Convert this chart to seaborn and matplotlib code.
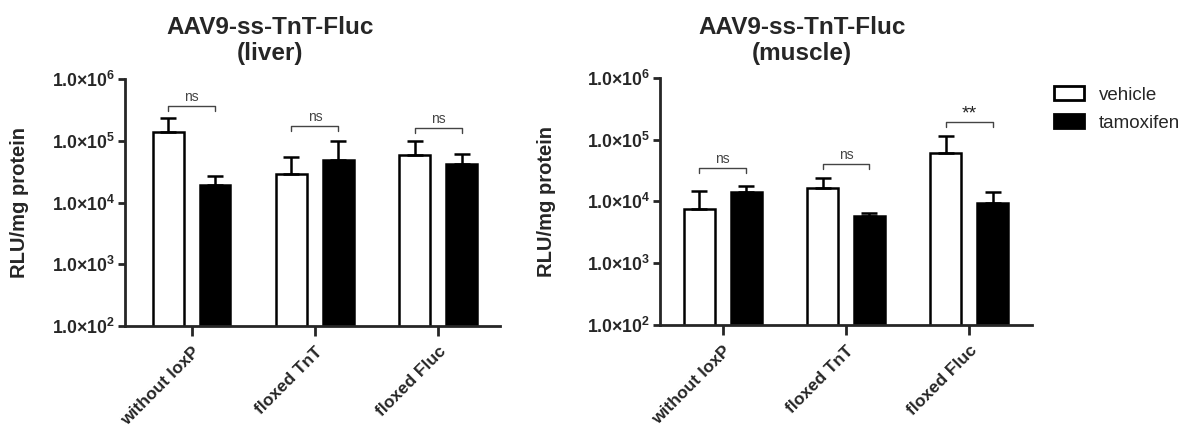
import numpy as np
import pandas as pd
import matplotlib
matplotlib.use('Agg')
import matplotlib.pyplot as plt
import seaborn as sns
from matplotlib.ticker import NullLocator
from matplotlib.patches import Patch

# categorias y grupos
categories = ['without loxP', 'floxed TnT', 'floxed Fluc']
treatments = ['vehicle', 'tamoxifen']

# liver: mean and mean+SEM
liver_vehicle = [1.37e5, 2.9e4, 5.9e4]
liver_vehicle_top = [2.36e5, 5.4e4, 1.0e5]
liver_tamoxifen = [1.9e4, 4.8e4, 4.2e4]
liver_tamoxifen_top = [2.7e4, 1.0e5, 6.0e4]
liver_marks = ['ns', 'ns', 'ns']
liver_bracket = [3.66e5, 1.75e5, 1.63e5]

# muscle
muscle_vehicle = [7.5e3, 1.67e4, 6.05e4]
muscle_vehicle_top = [1.46e4, 2.42e4, 1.16e5]
muscle_tamoxifen = [1.42e4, 5.7e3, 9.4e3]
muscle_tamoxifen_top = [1.8e4, 6.5e3, 1.42e4]
muscle_marks = ['ns', 'ns', '**']
muscle_bracket = [3.47e4, 4.08e4, 1.92e5]

y_ticks = [1e2, 1e3, 1e4, 1e5, 1e6]
y_tick_labels = ['1.0×10$^{2}$', '1.0×10$^{3}$', '1.0×10$^{4}$',
                 '1.0×10$^{5}$', '1.0×10$^{6}$']


def draw_panel(ax, vehicle, vehicle_top, tamoxifen, tamoxifen_top, marks, brackets, xlim):
    """Draws one bar panel with one-sided SEM bars and significance brackets."""
    df = pd.DataFrame({
        'Condition': categories * 2,
        'Treatment': ['vehicle'] * 3 + ['tamoxifen'] * 3,
        'RLU': vehicle + tamoxifen,
    })
    ax.set_yscale('log')
    sns.barplot(data=df, x='Condition', y='RLU', hue='Treatment',
                order=categories, hue_order=treatments,
                palette={'vehicle': 'white', 'tamoxifen': 'black'},
                edgecolor='black', linewidth=1.8, width=0.76, gap=0.34,
                errorbar=None, legend=False, ax=ax)

    centers = []
    for container, vals, tops in zip(ax.containers, [vehicle, tamoxifen],
                                     [vehicle_top, tamoxifen_top]):
        xs = [p.get_x() + p.get_width() / 2 for p in container]
        centers.append(xs)
        vals = np.array(vals)
        up = np.array(tops) - vals
        ax.errorbar(xs, vals, yerr=[np.zeros_like(vals), up], fmt='none',
                    ecolor='black', elinewidth=1.8, capsize=6, capthick=1.8)

    for i, (mark, yb) in enumerate(zip(marks, brackets)):
        x1, x2 = centers[0][i], centers[1][i]
        ax.plot([x1, x1, x2, x2], [yb / 1.2, yb, yb, yb / 1.2],
                color='#444444', lw=1.0, clip_on=False)
        if mark == 'ns':
            ax.text((x1 + x2) / 2, yb * 1.06, mark, ha='center', va='bottom',
                    fontsize=10, color='#444444')
        else:
            ax.text((x1 + x2) / 2, yb * 0.98, mark, ha='center', va='bottom',
                    fontsize=14, color='#222222')

    ax.set_ylim(1e2, 1e6)
    ax.set_xlim(*xlim)
    ax.set_yticks(y_ticks)
    ax.set_yticklabels(y_tick_labels, fontsize=12.7, fontweight='bold')
    ax.yaxis.set_minor_locator(NullLocator())
    ax.set_xticks(range(len(categories)))
    ax.set_xticklabels(categories, rotation=45, ha='right',
                       rotation_mode='anchor', fontsize=12.5, fontweight='bold')
    ax.set_xlabel('')
    ax.set_ylabel('RLU/mg protein', fontsize=14.5, fontweight='bold')
    sns.despine(ax=ax)
    for s in ['left', 'bottom']:
        ax.spines[s].set_linewidth(2)
    ax.tick_params(axis='y', width=2, length=5, pad=2)
    ax.tick_params(axis='x', width=2, length=7, pad=6)


if __name__ == "__main__":
    sns.set_style('ticks')
    plt.rcParams['font.family'] = ['Liberation Sans', 'DejaVu Sans']
    plt.rcParams['mathtext.fontset'] = 'custom'
    plt.rcParams['mathtext.bf'] = 'Liberation Sans:bold'
    plt.rcParams['mathtext.default'] = 'bf'

    fig = plt.figure(figsize=(11.89, 4.28), dpi=100)
    ax1 = fig.add_axes([0.1051, 0.2383, 0.3154, 0.5771])
    ax2 = fig.add_axes([0.5551, 0.2405, 0.3129, 0.5780])

    draw_panel(ax1, liver_vehicle, liver_vehicle_top, liver_tamoxifen,
               liver_tamoxifen_top, liver_marks, liver_bracket, (-0.54, 2.5))
    draw_panel(ax2, muscle_vehicle, muscle_vehicle_top, muscle_tamoxifen,
               muscle_tamoxifen_top, muscle_marks, muscle_bracket, (-0.51, 2.51))
    ax1.yaxis.set_label_coords(-0.255, 0.5)
    ax2.yaxis.set_label_coords(-0.28, 0.5)

    fig.text(0.227, 0.905, 'AAV9-ss-TnT-Fluc\n(liver)', ha='center', va='center',
             fontsize=17.5, fontweight='bold', linespacing=1.2)
    fig.text(0.6745, 0.905, 'AAV9-ss-TnT-Fluc\n(muscle)', ha='center', va='center',
             fontsize=17.5, fontweight='bold', linespacing=1.2)

    handles = [Patch(facecolor='white', edgecolor='black', linewidth=2, label='vehicle'),
               Patch(facecolor='black', edgecolor='black', linewidth=2, label='tamoxifen')]
    fig.legend(handles=handles, loc='upper left', bbox_to_anchor=(1054 / 1189, 1 - 86 / 428),
               frameon=False, fontsize=13.5, handlelength=1.6, handleheight=0.8,
               labelspacing=0.55, handletextpad=0.8, borderpad=0, borderaxespad=0)

    fig.savefig('out.png', dpi=100)
